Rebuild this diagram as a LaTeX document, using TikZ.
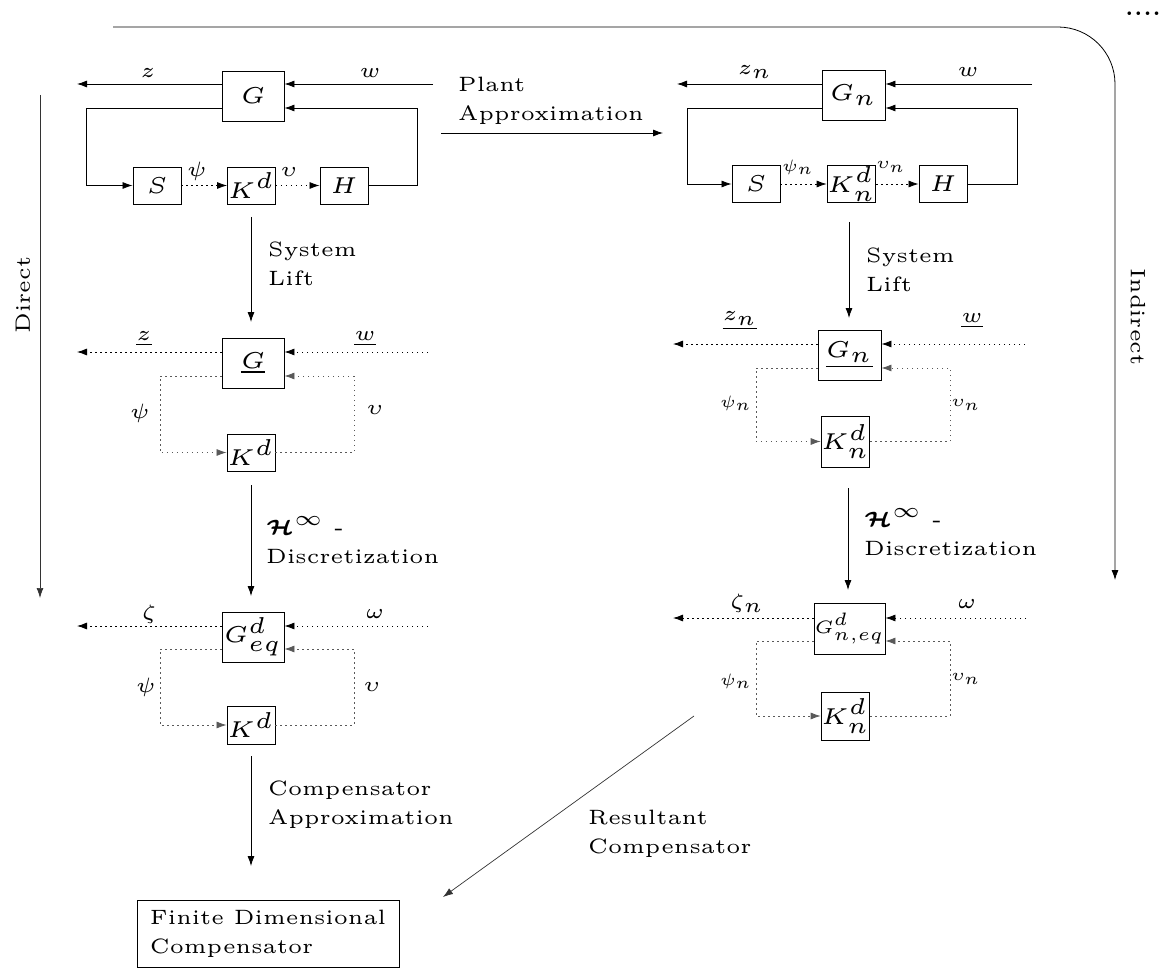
\documentclass[tikz,border=0pt]{standalone}
\usepackage{graphicx}
\usepackage{amsmath,bm}
\usetikzlibrary{arrows.meta}
\newcommand{\wt}[1]{\scalebox{4.15}{\fontsize{5}{7.0}\selectfont #1}}
\newcommand{\wm}[1]{\scalebox{4.6}{\fontsize{5}{7.0}\selectfont #1}}
\newcommand{\ws}[1]{\scalebox{3.3}{\fontsize{5}{7.0}\selectfont #1}}
\newcommand{\twol}[2]{\begin{tabular}{@{}l@{}}#1\\#2\end{tabular}}
\tikzset{
  box/.style={draw, line width=0.9pt, inner sep=0pt, minimum width=62pt, minimum height=50pt},
  sbox/.style={draw, line width=0.9pt, inner sep=0pt, minimum width=48pt, minimum height=37pt},
  lbl/.style={inner sep=0pt},
  arr/.style={line width=0.8pt, -{Latex[length=10pt,width=7pt]}},
  dotl/.style={dash pattern=on 1.5pt off 3.5pt},
  loopc/.style={black!65},
  thin/.style={black!80, line width=0.7pt}
}
\begin{document}
\begin{tikzpicture}[x=1pt,y=-1pt]
\useasboundingbox (0,0) rectangle (1175,968);

% ---------- top outer line (Indirect) ----------
\coordinate (t1) at (113,27);
\coordinate (t2) at (1115,580);
\draw[arr, rounded corners=57pt] (t1) -| (t2);
\node[lbl, rotate=-90] (ind) at (1138,317) {\wt{Indirect}};
\node[lbl] (dots) at (1143,14) {\wt{\textbf{....}}};

% ---------- Direct ----------
\coordinate (d1) at (40,95);
\coordinate (d2) at (40,598);
\draw[arr, thin] (d1) -- (d2);
\node[lbl, rotate=90] (dir) at (23,295) {\wt{Direct}};

% ---------- top-left block ----------
\node[box] (G1) at (253,96) {\wm{$G$}};
\node[sbox] (S1) at (157,185.5) {\wm{$S$}};
\node[sbox] (K1) at (251.5,185.5) {\wm{$K^d$}};
\node[sbox] (H1) at (344,185.5) {\wm{$H$}};
\coordinate (z1) at (77,84);
\coordinate (w1) at (433,84);
\coordinate (fr1) at (417,108);
\coordinate (fl1) at (86,108);
\draw[arr] (G1.west|-z1) -- (z1);
\draw[arr] (w1) -- (G1.east|-w1);
\draw[arr] (H1.east) -| (fr1) -- (G1.east|-fr1);
\draw[arr] (G1.west|-fl1) -- (fl1) |- (S1.west);
\draw[arr, dotl] (S1) -- (K1);
\draw[arr, dotl] (K1) -- (H1);
\node[lbl] (z1l) at (148,73) {\wt{$z$}};
\node[lbl] (w1l) at (370,73) {\wt{$w$}};
\node[lbl] (p1l) at (197,171) {\wt{$\psi$}};
\node[lbl] (v1l) at (289,172) {\wt{$\upsilon$}};

% ---------- Plant approximation ----------
\coordinate (pa1) at (441,133);
\coordinate (pa2) at (663,133);
\draw[arr] (pa1) -- (pa2);
\node[lbl, anchor=west] (pal) at (458,100) {\wt{\twol{Plant}{Approximation}}};

% ---------- top-right block ----------
\node[box, minimum width=63pt] (G2) at (853.5,95) {\wm{$G_n$}};
\node[sbox] (S2) at (756,184) {\wm{$S$}};
\node[sbox] (K2) at (851.5,184) {\wm{$K^d_n$}};
\node[sbox] (H2) at (943,184) {\wm{$H$}};
\coordinate (z2) at (677,84);
\coordinate (w2) at (1032,84);
\coordinate (fr2) at (1017,108);
\coordinate (fl2) at (687,108);
\draw[arr] (G2.west|-z2) -- (z2);
\draw[arr] (w2) -- (G2.east|-w2);
\draw[arr] (H2.east) -| (fr2) -- (G2.east|-fr2);
\draw[arr] (G2.west|-fl2) -- (fl2) |- (S2.west);
\draw[arr, dotl] (S2) -- (K2);
\draw[arr, dotl] (K2) -- (H2);
\node[lbl] (z2l) at (755,72) {\wt{$z_n$}};
\node[lbl] (w2l) at (968,72) {\wt{$w$}};
\node[lbl] (p2l) at (798,167) {\ws{$\psi_n$}};
\node[lbl] (v2l) at (891,167) {\ws{$\upsilon_n$}};

% ---------- System lift arrows ----------
\coordinate (sl1) at (251,217);
\coordinate (sl2) at (251,322);
\draw[arr] (sl1) -- (sl2);
\node[lbl, anchor=west] (sll) at (268,265) {\wt{\twol{System}{Lift}}};
\coordinate (sr1) at (849,222);
\coordinate (sr2) at (849,318);
\draw[arr] (sr1) -- (sr2);
\node[lbl, anchor=west] (srl) at (866,271) {\wt{\twol{System}{Lift}}};

% ---------- middle-left block ----------
\node[box] (G3) at (253,363) {\wm{$\underline{G}$}};
\node[sbox] (K3) at (251,452.5) {\wm{$K^d$}};
\coordinate (z3) at (77,352);
\coordinate (w3) at (428,352);
\coordinate (fr3) at (354,376);
\coordinate (fl3) at (160,376);
\draw[arr, dotl] (G3.west|-z3) -- (z3);
\draw[arr, dotl] (w3) -- (G3.east|-w3);
\draw[arr, dotl, loopc] (K3.east) -| (fr3) -- (G3.east|-fr3);
\draw[arr, dotl, loopc] (G3.west|-fl3) -- (fl3) |- (K3.west);
\node[lbl] (z3l) at (144,339) {\wt{$\underline{z}$}};
\node[lbl] (w3l) at (365,339) {\wt{$\underline{w}$}};
\node[lbl] (p3l) at (140,413) {\wt{$\psi$}};
\node[lbl] (v3l) at (375,410) {\wt{$\upsilon$}};

% ---------- middle-right block ----------
\node[box, minimum width=63pt] (G4) at (849.5,355) {\wm{$\underline{G_n}$}};
\node[sbox, minimum width=47pt, minimum height=51pt] (K4) at (845.5,441.5) {\wm{$K^d_n$}};
\coordinate (z4) at (673,344);
\coordinate (w4) at (1025,344);
\coordinate (fr4) at (950,368);
\coordinate (fl4) at (756,368);
\draw[arr, dotl] (G4.west|-z4) -- (z4);
\draw[arr, dotl] (w4) -- (G4.east|-w4);
\draw[arr, dotl, loopc] (K4.east) -| (fr4) -- (G4.east|-fr4);
\draw[arr, dotl, loopc] (G4.west|-fl4) -- (fl4) |- (K4.west);
\node[lbl] (z4l) at (740,321) {\wt{$\underline{z_n}$}};
\node[lbl] (w4l) at (972,321) {\wt{$\underline{w}$}};
\node[lbl] (p4l) at (736,403) {\ws{$\psi_n$}};
\node[lbl] (v4l) at (966,405) {\ws{$\upsilon_n$}};

% ---------- H-infinity discretization arrows ----------
\coordinate (hl1) at (251,485);
\coordinate (hl2) at (251,596);
\draw[arr] (hl1) -- (hl2);
\node[lbl, anchor=west] (hll) at (266,543) {\wt{\twol{$\bm{\mathcal{H}}^{\infty}$ -}{Discretization}}};
\coordinate (hr1) at (848,488);
\coordinate (hr2) at (848,590);
\draw[arr] (hr1) -- (hr2);
\node[lbl, anchor=west] (hrl) at (864,535) {\wt{\twol{$\bm{\mathcal{H}}^{\infty}$ -}{Discretization}}};

% ---------- lower-left block ----------
\node[box] (G5) at (253,637) {\wm{$G^d_{eq}$}};
\node[sbox, minimum height=38pt] (K5) at (251,725) {\wm{$K^d$}};
\coordinate (z5) at (77,626);
\coordinate (w5) at (428,626);
\coordinate (fr5) at (354,649);
\coordinate (fl5) at (160,649);
\draw[arr, dotl] (G5.west|-z5) -- (z5);
\draw[arr, dotl] (w5) -- (G5.east|-w5);
\draw[arr, dotl, loopc] (K5.east) -| (fr5) -- (G5.east|-fr5);
\draw[arr, dotl, loopc] (G5.west|-fl5) -- (fl5) |- (K5.west);
\node[lbl] (z5l) at (149,614) {\wt{$\zeta$}};
\node[lbl] (w5l) at (375,614) {\wt{$\omega$}};
\node[lbl] (p5l) at (146,687) {\wt{$\psi$}};
\node[lbl] (v5l) at (372,687) {\wt{$\upsilon$}};

% ---------- lower-right block ----------
\node[box, minimum width=71pt, minimum height=51pt] (G6) at (849.5,628.5) {\scalebox{3.6}{\fontsize{5}{7.0}\selectfont $G^d_{n,eq}$}};
\node[sbox, minimum width=47pt, minimum height=48pt] (K6) at (845.5,716) {\wm{$K^d_n$}};
\coordinate (z6) at (673,618);
\coordinate (w6) at (1026,618);
\coordinate (fr6) at (950,641);
\coordinate (fl6) at (756,641);
\draw[arr, dotl] (G6.west|-z6) -- (z6);
\draw[arr, dotl] (w6) -- (G6.east|-w6);
\draw[arr, dotl, loopc] (K6.east) -| (fr6) -- (G6.east|-fr6);
\draw[arr, dotl, loopc] (G6.west|-fl6) -- (fl6) |- (K6.west);
\node[lbl] (z6l) at (747,603) {\wt{$\zeta_n$}};
\node[lbl] (w6l) at (967,604) {\wt{$\omega$}};
\node[lbl] (p6l) at (736,681) {\ws{$\psi_n$}};
\node[lbl] (v6l) at (966,679) {\ws{$\upsilon_n$}};

% ---------- compensator approximation ----------
\coordinate (ca1) at (251,756);
\coordinate (ca2) at (251,866);
\draw[arr] (ca1) -- (ca2);
\node[lbl, anchor=west] (cal) at (268,804) {\wt{\twol{Compensator}{Approximation}}};

% ---------- resultant compensator ----------
\coordinate (rc1) at (694,716);
\coordinate (rc2) at (443,897);
\draw[arr, thin] (rc1) -- (rc2);
\node[lbl, anchor=west] (rcl) at (588,833) {\wt{\twol{Resultant}{Compensator}}};

% ---------- final box ----------
\node[draw, line width=0.9pt, inner sep=0pt, minimum width=262pt, minimum height=67pt] (F) at (268,933.5)
  {\wt{\twol{Finite Dimensional}{Compensator}}};
\end{tikzpicture}
\end{document}
